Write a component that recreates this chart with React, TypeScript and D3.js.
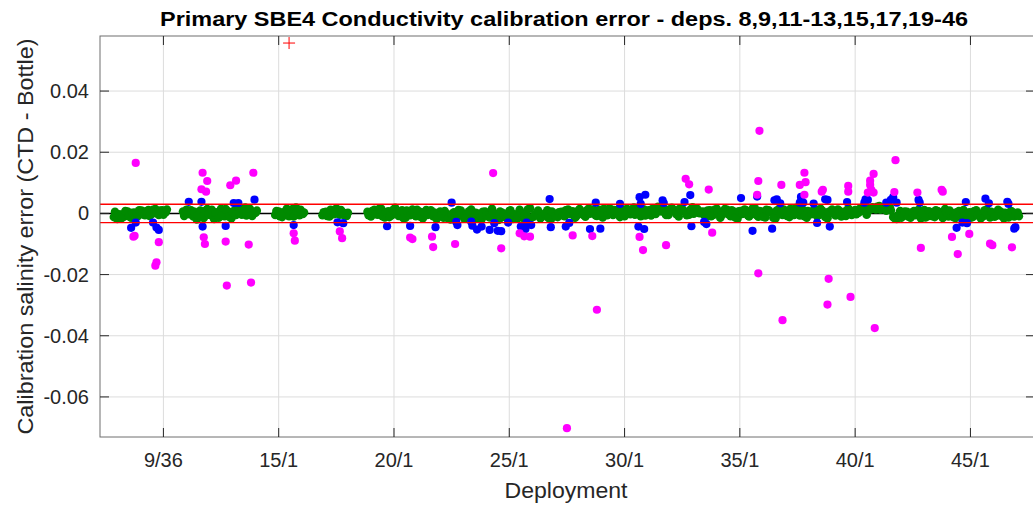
import React from 'react';
import * as d3 from 'd3';

// bottle index ticks and their deployment/station labels
const xTickValues = [100, 200, 300, 400, 500, 600, 700, 800];
const xTickLabels = ['9/36', '15/1', '20/1', '25/1', '30/1', '35/1', '40/1', '45/1'];
const yTickValues = [-0.06, -0.04, -0.02, 0, 0.02, 0.04];
const yTickLabels = ['-0.06', '-0.04', '-0.02', '0', '0.02', '0.04'];
const tolerance = 0.003;

// good bottles (green), per deployment run: first bottle index, step, values in 1e-4
// vals = bottles at start + 3i, vals2 = bottles at start + 1 + 3i
const greenRuns = [
  {
    start: 57, step: 3,
    vals: [-12, -18, -4, -10, 6, -14, 3, -8, 9, -6, 11, -2, 14, -5, 10, 4],
    vals2: [5, -3, -15, 8, -9, 2, -12, 10, -3, 7, -8, 12, 1, 9, -4, 13],
  },
  {
    start: 117, step: 3,
    vals: [6, 12, -3, -10, -20, 9, -15, 14, -6, -18, 4, 15, -9, 7, -16, 11, 17, -4, 19, 8, -8, 2],
    vals2: [-8, -2, 10, 5, -6, -12, 8, -3, 12, 3, -14, -6, 14, -11, 5, -5, 2, 13, -7, 15, -2, 9],
  },
  {
    start: 197, step: 3,
    vals: [-5, 6, -12, 2, -9, 14, 19, -6, -2],
    vals2: [8, -9, 4, 15, -3, -10, 6, 12, 3],
  },
  {
    start: 238, step: 3,
    vals: [-6, 5, -10, 9, 16, -4, 3, -8],
    vals2: [4, -8, 12, -3, 6, 11, -6, 2],
  },
  {
    start: 277, step: 3,
    vals: [
      5, -10, 12, -4, 15, -13, 7, -6, 18, -8, 10, -14, 3, 13, -9, 6, -16, 11, -2,
      -9, -18, 6, -14, -3, -20, 4, -12, 9, -17, -5, 13, -15, -1, -19, 6, -10, 15, -8, -21,
      2, -13, 8, -18, -4, 12, -15, -7, 17, -11, 3, -16, -6, 10, -20, -2, -12,
      5, -9, 13, -3, -14, 9, 1, -11, 16, 6, -7, 12, -13, 3, 17, -5, 10, -12, 5, 15,
      -3, 19, 8, -9, 13, 2, -7, 16, 22, 6, 12, -5, 18, 10, -10, 15, 4, -4, 20, 8, 1,
      6, -12, 10, -5, 15, -14, 3, 12, -9, 5, -17, 8, 13, -7, 1, 17, -11, 6, -13, 10,
      2, -16, 14, -5, 8, -12, 4, 18, -7, 11, -14, 0, 10, -9, 15, 4, -16, 8, -3, 13,
      -10, 6, 16, -5, 11, 2, 19, 7, 14,
      20, 13, 24, 16, 9, 21, -12, -18, 8,
      -7, 5, -14, 8, -3, -16, 11, -9, 3, -12, 7, -5, 14, -10, 1, -15, 8, -6, -18, 4,
      -12, 10, -3, -9, 13, -13, 1, -7, 6, -16, -4, 8, -10, 3,
    ],
    vals2: [
      -6, 8, -3, 14, -9, 4, -12, 11, -1, 7, -15, 9, -6, 2, 12, -11, 4, -5, 10,
      3, -12, -6, 8, -16, -2, -9, 11, -4, -14, 7, -10, 2, -18, 5, -7, -13, 3, -16, 6,
      -5, -11, 10, -3, -17, 1, -8, 13, -14, -4, 9, -12, 0, -15, 6, -9, 4,
      -6, 10, -2, 7, -10, 14, -4, 9, -1, 13, -8, 3, 15, -6, 8, 11, -2, 14, -9, 6,
      12, -4, 17, 3, -7, 10, 14, -2, 9, 18, -5, 13, 7, -3, 16, 9, -6, 12, -1, 15, 5,
      -5, 9, -9, 12, 2, -7, 14, -3, 10, -13, 7, -2, 11, -10, 16, -4, 8, -11, 12, 4,
      -14, 9, -2, 13, -8, 15, -5, 6, 12, -9, 8, -3, 14, -6, 10, -12, 5, 13, -7, 9,
      3, -8, 12, 6, -3, 15, 8, -4, 12,
      17, 22, 12, 19, 25, 10, -15, -6, -14,
      6, -10, 3, -6, 12, -2, -13, 7, -9, 10, -4, -15, 5, 9, -12, 4, -8, 11, -3, -14,
      7, -6, -16, 9, -2, 5, -11, 12, -8, 2, -13, 6, -2, -9,
    ],
  },
];

// bottles just outside tolerance (blue)
const blueIdx = [72, 76, 91, 94, 96, 122, 133, 134, 154, 161, 165, 179, 213, 251, 256, 294, 314, 336, 350, 354, 355, 367, 368, 372, 376, 383, 387, 390, 393, 399, 410, 414, 415, 419, 435, 436, 449, 452, 470, 479, 475, 496, 512, 517, 513, 518, 514, 533, 534, 552, 557, 558, 569, 571, 601, 615, 611, 628, 630, 632, 635, 653, 655, 652, 664, 667, 674, 676, 678, 693, 709, 711, 708, 727, 731, 733, 736, 755, 756, 788, 793, 797, 796, 813, 816, 832, 833, 838, 839];
const blueErr = [-0.0047, -0.003, -0.003, -0.0046, -0.0054, 0.0038, 0.0038, -0.0043, -0.0041, 0.0034, 0.0034, 0.0045, -0.0038, -0.0029, -0.0032, -0.0042, -0.0041, -0.0045, 0.0035, -0.0028, -0.0038, -0.0027, -0.004, -0.0053, -0.0043, -0.0054, -0.0032, -0.0057, -0.0058, -0.003, -0.0043, -0.0051, -0.003, -0.0038, 0.0047, -0.0045, -0.0043, -0.0031, -0.0051, -0.005, 0.0035, 0.0031, -0.0043, -0.0051, 0.0053, 0.0061, 0.0031, 0.0043, 0.0034, 0.0037, 0.006, -0.0042, -0.0028, -0.0035, 0.005, 0.0055, -0.0057, -0.005, 0.0043, 0.0046, 0.0033, 0.0054, 0.0035, 0.0035, 0.0032, -0.0031, 0.0046, 0.0044, -0.0043, 0.0037, 0.0046, 0.0044, 0.0035, 0.0035, 0.0044, 0.0053, 0.0035, 0.0044, 0.0035, -0.0047, -0.003, -0.0032, 0.0037, 0.0048, 0.0033, 0.0038, 0.0031, -0.005, -0.0045];

// rejected bottles (magenta)
const magentaIdx = [76, 74, 75, 96, 94, 93, 134, 138, 133, 137, 135, 136, 158, 163, 178, 154, 174, 155, 176, 213, 214, 253, 255, 314, 316, 333, 334, 386, 353, 393, 409, 413, 418, 455, 472, 513, 516, 536, 553, 556, 573, 576, 450, 617, 616, 615, 616, 636, 656, 657, 652, 656, 672, 671, 677, 694, 694, 716, 713, 713, 714, 716, 711, 735, 734, 754, 757, 775, 776, 784, 789, 799, 817, 819, 836, 476, 637, 676, 696, 717];
const magentaErr = [0.0165, -0.0076, -0.0073, -0.0094, -0.016, -0.0171, 0.0133, 0.0106, 0.0079, 0.0071, -0.0078, -0.01, 0.0092, 0.0107, 0.0133, -0.0092, -0.0102, -0.0236, -0.0226, -0.0065, -0.0089, -0.0059, -0.0081, -0.0079, -0.0084, -0.0076, -0.011, 0.0132, -0.01, -0.0114, -0.0065, -0.0075, -0.0076, -0.0072, -0.0074, -0.0077, -0.012, -0.0104, 0.0113, 0.0095, 0.0078, -0.0063, -0.0702, 0.027, 0.0106, 0.0061, -0.0196, 0.0093, 0.0133, 0.0102, 0.0093, 0.0061, 0.0077, 0.0071, -0.0214, 0.009, 0.0071, 0.0129, 0.0107, 0.0093, 0.0077, 0.0068, 0.0068, 0.0174, 0.007, 0.0068, -0.0113, 0.0077, 0.0071, -0.0077, -0.0133, -0.0067, -0.0099, -0.0104, -0.0111, -0.0315, -0.0349, -0.0298, -0.0273, -0.0375];

// off-scale point (red plus)
const offIdx = [209];
const offErr = [0.0557];

const W = 1033;
const H = 509;
const m = { left: 100, right: 1035, top: 36, bottom: 437 };
const font = '"Liberation Sans", Arial, Helvetica, sans-serif';
const axisColor = '#262626';

export default function App() {
  const x = d3.scaleLinear().domain([45, 856]).range([m.left, m.right]);
  const y = d3.scaleLinear().domain([-0.0731, 0.058]).range([m.bottom, m.top]);

  const green: [number, number][] = [];
  greenRuns.forEach(run => {
    run.vals.forEach((v, i) => green.push([run.start + i * run.step, v * 1e-4]));
    run.vals2.forEach((v, i) => green.push([run.start + 1 + i * run.step, v * 1e-4]));
  });
  const blue = blueIdx.map((d, i) => [d, blueErr[i]]);
  const magenta = magentaIdx.map((d, i) => [d, magentaErr[i]]);
  const off = offIdx.map((d, i) => [d, offErr[i]]);
  const r = 4.1;

  return (
    <svg width={W} height={H} style={{ position: 'absolute', left: 0, top: 0, background: '#fff' }} fontFamily={font}>
      <defs>
        <clipPath id="plot">
          <rect x={m.left} y={m.top} width={m.right - m.left} height={m.bottom - m.top} />
        </clipPath>
      </defs>
      <rect x={0} y={0} width={W} height={H} fill="#fff" />
      {/* grid */}
      <g stroke="#dcdcdc" strokeWidth={1}>
        {xTickValues.map(t => (
          <line key={'gx' + t} x1={x(t)} x2={x(t)} y1={m.top} y2={m.bottom} />
        ))}
        {yTickValues.map(t => (
          <line key={'gy' + t} x1={m.left} x2={m.right} y1={y(t)} y2={y(t)} />
        ))}
      </g>
      <g clipPath="url(#plot)">
        <line x1={m.left} x2={m.right} y1={y(0)} y2={y(0)} stroke="#000" strokeWidth={1.5} />
        {green.map((d, i) => (
          <circle key={'g' + i} cx={x(d[0])} cy={y(d[1])} r={r + 0.2} fill="#008a00" />
        ))}
        {blue.map((d, i) => (
          <circle key={'b' + i} cx={x(d[0])} cy={y(d[1])} r={r} fill="#0000ff" />
        ))}
        {magenta.map((d, i) => (
          <circle key={'m' + i} cx={x(d[0])} cy={y(d[1])} r={r} fill="#ff00ff" />
        ))}
        {[tolerance, -tolerance].map(t => (
          <line key={'tol' + t} x1={m.left} x2={m.right} y1={y(t)} y2={y(t)} stroke="#ff0000" strokeWidth={1.3} />
        ))}
        {off.map((d, i) => (
          <path key={'o' + i} d={`M${x(d[0]) - 6},${y(d[1])}h12M${x(d[0])},${y(d[1]) - 6}v12`} stroke="#ff0000" strokeWidth={1} fill="none" />
        ))}
      </g>
      {/* box + ticks */}
      <g stroke={axisColor} strokeWidth={1} fill="none">
        <rect x={m.left} y={m.top} width={m.right - m.left} height={m.bottom - m.top} stroke="#6e6e6e" />
        {xTickValues.map(t => (
          <g key={'tx' + t}>
            <line x1={x(t)} x2={x(t)} y1={m.bottom} y2={m.bottom - 9} />
            <line x1={x(t)} x2={x(t)} y1={m.top} y2={m.top + 9} />
          </g>
        ))}
        {yTickValues.map(t => (
          <g key={'ty' + t}>
            <line x1={m.left} x2={m.left + 9} y1={y(t)} y2={y(t)} />
            <line x1={m.right} x2={m.right - 9} y1={y(t)} y2={y(t)} />
          </g>
        ))}
      </g>
      <g fill={axisColor} fontSize={20}>
        {xTickValues.map((t, i) => (
          <text key={'lx' + t} x={x(t)} y={467} textAnchor="middle">{xTickLabels[i]}</text>
        ))}
        {yTickValues.map((t, i) => (
          <text key={'ly' + t} x={89} y={y(t) + 7} textAnchor="end">{yTickLabels[i]}</text>
        ))}
        <text x={566} y={498} textAnchor="middle" fontSize={22} textLength={123} lengthAdjust="spacingAndGlyphs">Deployment</text>
        <text
          transform={`translate(33,${(m.top + m.bottom) / 2}) rotate(-90)`}
          textAnchor="middle"
          fontSize={22}
          textLength={396}
          lengthAdjust="spacingAndGlyphs"
        >
          Calibration salinity error (CTD - Bottle)
        </text>
      </g>
      <text
        x={564}
        y={26}
        textAnchor="middle"
        fontSize={20}
        fontWeight="bold"
        fill="#000"
        textLength={808}
        lengthAdjust="spacingAndGlyphs"
      >
        Primary SBE4 Conductivity calibration error - deps. 8,9,11-13,15,17,19-46
      </text>
    </svg>
  );
}
